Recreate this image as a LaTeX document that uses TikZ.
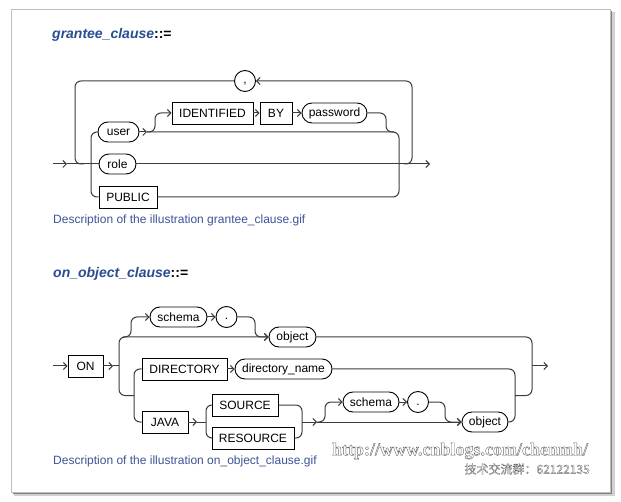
\documentclass[tikz,border=0pt]{standalone}
\usepackage{fontspec}
\setmainfont{Liberation Sans}
\newfontfamily\serifwm{Liberation Serif}
\newfontfamily\cjk{Noto Sans CJK SC}
\usetikzlibrary{arrows.meta}
\definecolor{ttl}{RGB}{40,78,145}
\definecolor{capc}{RGB}{62,84,150}
\definecolor{ln}{RGB}{60,60,60}
\newcommand{\halo}[2]{{\color{white}\special{pdf:literal direct 0.4 G #1 w 1 j 2 Tr}#2\special{pdf:literal direct 0 Tr}}}
\tikzset{
 conn/.style={draw=ln, line width=1pt, rounded corners=6pt},
 arr/.style={conn, -{Straight Barb[length=3.5pt,width=7pt]}},
 term/.style={draw=black, line width=0.9pt, rectangle, minimum height=22pt, inner sep=0pt, font=\fontsize{12}{14}\selectfont},
 nterm/.style={draw=black, line width=0.9pt, rectangle, rounded corners=10pt, minimum height=20pt, inner sep=0pt, font=\fontsize{12}{14}\selectfont},
 punct/.style={draw=black, line width=0.9pt, circle, minimum size=21pt, inner sep=0pt, text height=8.5pt, text depth=2.5pt, font=\fontsize{12}{14}\selectfont},
 ttlstyle/.style={anchor=base west, inner sep=0pt, font=\fontsize{14}{16}\selectfont\bfseries\itshape, text=ttl},
 capt/.style={anchor=base west, inner sep=0pt, font=\fontsize{12}{14}\selectfont, text=capc},
}
\begin{document}
\begin{tikzpicture}[x=1pt,y=-1pt]
\useasboundingbox (0,0) rectangle (621,502);
\fill[white] (0,0) rectangle (621,502);
% page frame with shadow
\fill[black!18] (14,12) rectangle (615,496);
\fill[black!50] (13,11) rectangle (612,494);
\filldraw[fill=white, draw=black!25] (11,9) rectangle (610,492);

% ---------- grantee_clause ----------
\node[ttlstyle] (t1) at (52,39) {grantee\_clause{\upshape\color{black}::=}};
\node[nterm, minimum width=41pt] (user) at (118.5,132) {user};
\node[nterm, minimum width=37pt] (role) at (117.5,164) {role};
\node[term, minimum width=58pt] (public) at (128,197) {PUBLIC};
\node[term, minimum width=81pt] (ident) at (212.5,113) {IDENTIFIED};
\node[term, minimum width=32pt] (by) at (276,113) {BY};
\node[nterm, minimum width=65pt] (pwd) at (334.5,113) {password};
\node[punct] (comma) at (245,81) {,};
\coordinate (gin) at (53,164);
\coordinate (ga) at (67,164);
\coordinate (gout) at (430,164);

\draw[arr] (gin) -- (ga);
\draw[conn] (ga) -- (role.west);
\draw[arr] (role.east) -- (gout);
\draw[conn] (comma.west) -- (75,81) -- (75,164) -- (84,164);
\draw[arr] (404,164) -- (412,164) -- (412,81) -- (comma.east);
\draw[conn] (user.west) -- (91,132) -- (91,197) -- (public.west);
\draw[arr] (user.east) -- (147,132);
\draw[conn] (147,132) -- (399,132) -- (399,197) -- (public.east);
\draw[arr] (147,132) -- (155,132) -- (155,113) -- (ident.west);
\draw[arr] (ident.east) -- (by.west);
\draw[arr] (by.east) -- (pwd.west);
\draw[conn] (pwd.east) -- (386,113) -- (386,132) -- (394,132);

\node[capt] (c1) at (53,224) {Description of the illustration grantee\_clause.gif};

% ---------- on_object_clause ----------
\node[ttlstyle] (t2) at (53,278) {on\_object\_clause{\upshape\color{black}::=}};
\node[term, minimum width=35pt] (on) at (85.5,366) {ON};
\node[nterm, minimum width=57pt] (sch1) at (178.5,317) {schema};
\node[punct] (dot1) at (226.5,317) {.};
\node[nterm, minimum width=47pt] (obj1) at (292.5,337) {object};
\node[term, minimum width=85pt] (dir) at (184.5,369) {DIRECTORY};
\node[nterm, minimum width=97pt] (dirn) at (283.5,369) {directory\_name};
\node[term, minimum width=46pt] (java) at (165,422) {JAVA};
\node[term, minimum width=66pt] (src) at (245,405) {SOURCE};
\node[term, minimum width=82pt] (rsrc) at (253,438) {RESOURCE};
\node[nterm, minimum width=56pt] (sch2) at (371,402) {schema};
\node[punct] (dot2) at (418,402) {.};
\node[nterm, minimum width=46pt] (obj2) at (485,422) {object};
\coordinate (oin) at (53,366);
\coordinate (oa) at (113,366);
\coordinate (os) at (119,366);
\coordinate (oout) at (548,366);

\draw[arr] (oin) -- (on.west);
\draw[arr] (on.east) -- (oa);
\draw[conn] (oa) -- (os);
\draw[arr] (os) -- (119,337) -- (obj1.west);
\draw[conn] (os) -- (119,395.5) -- (134,395.5);
\draw[arr] (123,337) -- (131,337) -- (131,317) -- (sch1.west);
\draw[arr] (sch1.east) -- (dot1.west);
\draw[arr] (dot1.east) -- (255,317) -- (255,337) -- (obj1.west);
\draw[conn] (obj1.east) -- (532,337) -- (532,366);
\draw[conn] (515,395.5) -- (532,395.5) -- (532,366);
\draw[arr] (532,366) -- (oout);
\draw[conn] (dir.west) -- (134,369) -- (134,422) -- (java.west);
\draw[arr] (dir.east) -- (dirn.west);
\draw[conn] (dirn.east) -- (515,369) -- (515,422) -- (obj2.east);
\draw[arr] (java.east) -- (197,422);
\draw[conn] (197,422) -- (206,422);
\draw[conn] (src.west) -- (206,405) -- (206,438) -- (rsrc.west);
\draw[conn] (src.east) -- (302,405) -- (302,438) -- (rsrc.east);
\draw[arr] (302,422) -- (317,422);
\draw[arr] (317,422) -- (obj2.west);
\draw[arr] (317,422) -- (325,422) -- (325,402) -- (sch2.west);
\draw[arr] (sch2.east) -- (dot2.west);
\draw[arr] (dot2.east) -- (445,402) -- (445,422) -- (obj2.west);

\node[capt] (c2) at (53,464) {Description of the illustration on\_object\_clause.gif};

% watermark
\node[inner sep=0pt, font=\serifwm\bfseries\fontsize{18}{20}\selectfont] (wm1) at (460,451) {\halo{0.4}{http://www.cnblogs.com/chenmh/}};
\node[anchor=east, inner sep=0pt, font=\cjk\fontsize{12}{14}\selectfont] (wm2) at (590,469) {\halo{0.3}{技术交流群：62122135}};
\end{tikzpicture}
\end{document}
